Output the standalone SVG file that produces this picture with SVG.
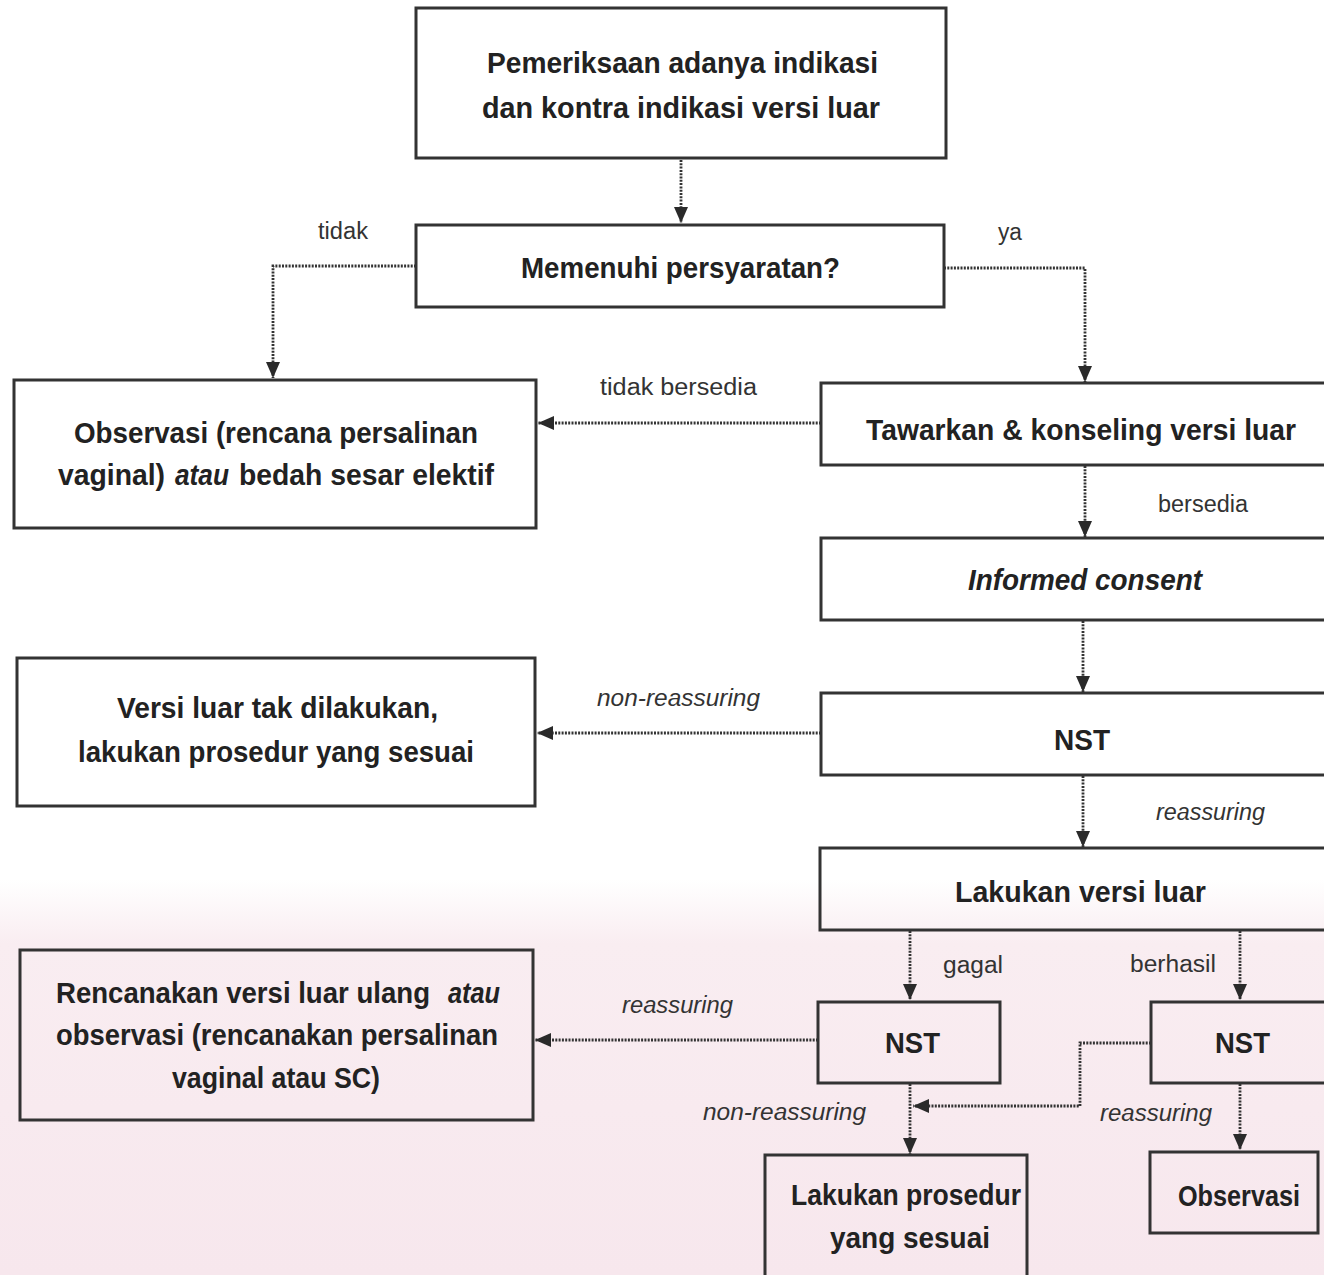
<svg xmlns="http://www.w3.org/2000/svg" width="1324" height="1275" viewBox="0 0 1324 1275">
<defs>
<linearGradient id="bg" x1="0" y1="0" x2="0" y2="1">
<stop offset="0" stop-color="#ffffff"/>
<stop offset="0.69" stop-color="#ffffff"/>
<stop offset="0.74" stop-color="#f9edf1"/>
<stop offset="1" stop-color="#f7e7ed"/>
</linearGradient>
<marker id="ah" markerUnits="userSpaceOnUse" markerWidth="16" markerHeight="14" refX="16" refY="7" orient="auto">
<path d="M0,0 L16,7 L0,14 z" fill="#2a2a2a"/>
</marker>
<style>
.box{fill:none;stroke:#333;stroke-width:3}
.t{font-family:"Liberation Sans",Arial,sans-serif;font-weight:bold;font-size:29px;fill:#222}
.l{font-family:"Liberation Sans",Arial,sans-serif;font-size:23px;fill:#333}
.i{font-style:italic}
.c{fill:none;stroke:#333;stroke-width:2.8;stroke-dasharray:2 1.3}
</style>
</defs>
<rect x="0" y="0" width="1324" height="1275" fill="url(#bg)"/>

<g id="connectors">
<path class="c" d="M681 160 V223" marker-end="url(#ah)"/>
<path class="c" d="M416 266 H273 V378" marker-end="url(#ah)"/>
<path class="c" d="M944 268 H1085 V382" marker-end="url(#ah)"/>
<path class="c" d="M821 423 H538" marker-end="url(#ah)"/>
<path class="c" d="M1085 466 V537" marker-end="url(#ah)"/>
<path class="c" d="M1083 621 V692" marker-end="url(#ah)"/>
<path class="c" d="M821 733 H537" marker-end="url(#ah)"/>
<path class="c" d="M1083 776 V847" marker-end="url(#ah)"/>
<path class="c" d="M910 931 V1000" marker-end="url(#ah)"/>
<path class="c" d="M1240 931 V1000" marker-end="url(#ah)"/>
<path class="c" d="M818 1040 H535" marker-end="url(#ah)"/>
<path class="c" d="M910 1084 V1154" marker-end="url(#ah)"/>
<path class="c" d="M1151 1043 H1080 V1106 H913" marker-end="url(#ah)"/>
<path class="c" d="M1240 1084 V1150" marker-end="url(#ah)"/>
<text class="l" x="318" y="239" textLength="50" lengthAdjust="spacingAndGlyphs">tidak</text>
<text class="l" x="998" y="240" textLength="24" lengthAdjust="spacingAndGlyphs">ya</text>
<text class="l" x="600" y="395" textLength="157" lengthAdjust="spacingAndGlyphs">tidak bersedia</text>
<text class="l" x="1158" y="512" textLength="90" lengthAdjust="spacingAndGlyphs">bersedia</text>
<text class="l i" x="597" y="706" textLength="163" lengthAdjust="spacingAndGlyphs">non-reassuring</text>
<text class="l i" x="1156" y="820" textLength="109" lengthAdjust="spacingAndGlyphs">reassuring</text>
<text class="l" x="943" y="973" textLength="60" lengthAdjust="spacingAndGlyphs">gagal</text>
<text class="l" x="1130" y="972" textLength="86" lengthAdjust="spacingAndGlyphs">berhasil</text>
<text class="l i" x="622" y="1013" textLength="111" lengthAdjust="spacingAndGlyphs">reassuring</text>
<text class="l i" x="703" y="1120" textLength="163" lengthAdjust="spacingAndGlyphs">non-reassuring</text>
<text class="l i" x="1100" y="1121" textLength="112" lengthAdjust="spacingAndGlyphs">reassuring</text>
</g>

<g id="n1">
<rect class="box" x="416" y="8" width="530" height="150"/>
<text class="t" x="487" y="73" textLength="391" lengthAdjust="spacingAndGlyphs">Pemeriksaan adanya indikasi</text>
<text class="t" x="482" y="118" textLength="398" lengthAdjust="spacingAndGlyphs">dan kontra indikasi versi luar</text>
</g>
<g id="n2">
<rect class="box" x="416" y="225" width="528" height="82"/>
<text class="t" x="521" y="278" textLength="319" lengthAdjust="spacingAndGlyphs">Memenuhi persyaratan?</text>
</g>
<g id="n3">
<rect class="box" x="14" y="380" width="522" height="148"/>
<text class="t" x="74" y="443" textLength="404" lengthAdjust="spacingAndGlyphs">Observasi (rencana persalinan</text>
<text class="t" x="58" y="485" textLength="107" lengthAdjust="spacingAndGlyphs">vaginal)</text>
<text class="t i" x="175" y="485" textLength="54" lengthAdjust="spacingAndGlyphs">atau</text>
<text class="t" x="239" y="485" textLength="255" lengthAdjust="spacingAndGlyphs">bedah sesar elektif</text>
</g>
<g id="n4">
<rect class="box" x="821" y="383" width="510" height="82"/>
<text class="t" x="866" y="440" textLength="430" lengthAdjust="spacingAndGlyphs">Tawarkan &amp; konseling  versi luar</text>
</g>
<g id="n5">
<rect class="box" x="821" y="538" width="510" height="82"/>
<text class="t i" x="968" y="590" textLength="234" lengthAdjust="spacingAndGlyphs">Informed consent</text>
</g>
<g id="n6">
<rect class="box" x="821" y="693" width="510" height="82"/>
<text class="t" x="1054" y="750" textLength="56" lengthAdjust="spacingAndGlyphs">NST</text>
</g>
<g id="n7">
<rect class="box" x="17" y="658" width="518" height="148"/>
<text class="t" x="117" y="718" textLength="321" lengthAdjust="spacingAndGlyphs">Versi luar tak dilakukan,</text>
<text class="t" x="78" y="762" textLength="396" lengthAdjust="spacingAndGlyphs">lakukan prosedur yang sesuai</text>
</g>
<g id="n8">
<rect class="box" x="820" y="848" width="511" height="82"/>
<text class="t" x="955" y="902" textLength="251" lengthAdjust="spacingAndGlyphs">Lakukan  versi luar</text>
</g>
<g id="n9">
<rect class="box" x="818" y="1002" width="182" height="81"/>
<text class="t" x="885" y="1053" textLength="55" lengthAdjust="spacingAndGlyphs">NST</text>
</g>
<g id="n10">
<rect class="box" x="1151" y="1002" width="180" height="81"/>
<text class="t" x="1215" y="1053" textLength="55" lengthAdjust="spacingAndGlyphs">NST</text>
</g>
<g id="n11">
<rect class="box" x="20" y="950" width="513" height="170"/>
<text class="t" x="56" y="1003" textLength="374" lengthAdjust="spacingAndGlyphs">Rencanakan versi luar ulang</text>
<text class="t i" x="448" y="1003" textLength="52" lengthAdjust="spacingAndGlyphs">atau</text>
<text class="t" x="56" y="1045" textLength="442" lengthAdjust="spacingAndGlyphs">observasi (rencanakan persalinan</text>
<text class="t" x="172" y="1088" textLength="208" lengthAdjust="spacingAndGlyphs">vaginal atau SC)</text>
</g>
<g id="n12">
<rect class="box" x="765" y="1155" width="262" height="130"/>
<text class="t" x="791" y="1205" textLength="230" lengthAdjust="spacingAndGlyphs">Lakukan prosedur</text>
<text class="t" x="830" y="1248" textLength="160" lengthAdjust="spacingAndGlyphs">yang sesuai</text>
</g>
<g id="n13">
<rect class="box" x="1150" y="1152" width="168" height="81"/>
<text class="t" x="1178" y="1206" textLength="122" lengthAdjust="spacingAndGlyphs">Observasi</text>
</g>
</svg>
